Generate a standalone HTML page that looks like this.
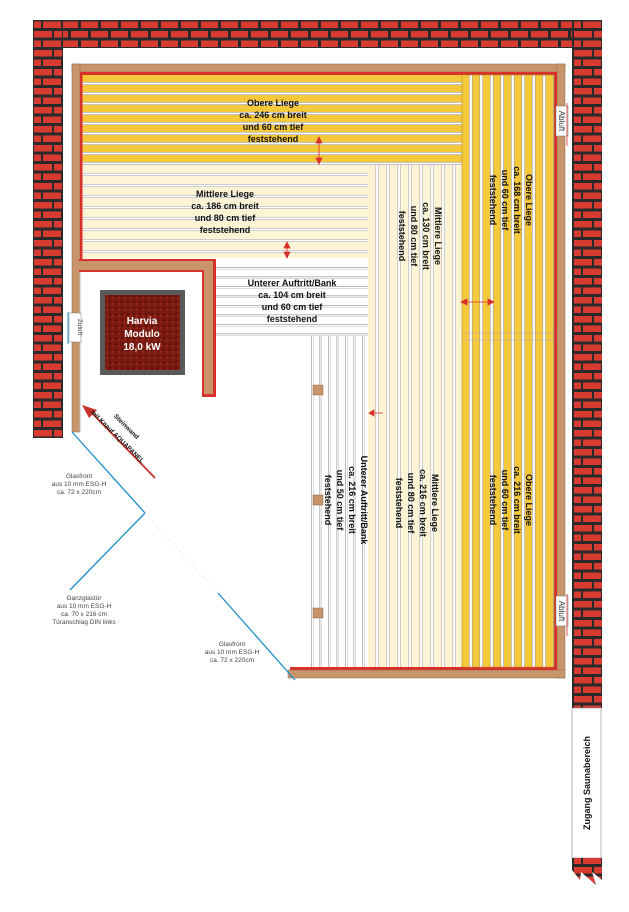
<!DOCTYPE html>
<html><head><meta charset="utf-8"><style>
html,body{margin:0;padding:0;background:#fff;}
svg{display:block;}
text{font-family:"Liberation Sans",sans-serif;}
.b{font-weight:bold;font-size:9px;fill:#111;}
.s{font-size:6.5px;fill:#444;}
</style></head><body>
<svg width="629" height="912" viewBox="0 0 629 912" xmlns="http://www.w3.org/2000/svg">
<defs>
<pattern id="brickH" x="0" y="20" width="20" height="19" patternUnits="userSpaceOnUse">
<rect width="20" height="19" fill="#2a2a2a"/>
<rect x="1" y="1.5" width="17" height="6.5" fill="#d83c30"/>
<rect x="-9" y="11" width="17" height="6.5" fill="#d83c30"/>
<rect x="11" y="11" width="17" height="6.5" fill="#d83c30"/>
</pattern>
<pattern id="brickV" x="33" y="20" width="30" height="19" patternUnits="userSpaceOnUse">
<rect width="30" height="19" fill="#2a2a2a"/>
<rect x="1" y="1.5" width="7" height="6.5" fill="#d83c30"/>
<rect x="10" y="1.5" width="18" height="6.5" fill="#d83c30"/>
<rect x="1" y="11" width="18" height="6.5" fill="#d83c30"/>
<rect x="21" y="11" width="8" height="6.5" fill="#d83c30"/>
</pattern>
<pattern id="yH" x="0" y="75" width="10" height="10" patternUnits="userSpaceOnUse">
<rect width="10" height="10" fill="#f6c93c"/>
<rect y="7" width="10" height="3" fill="#fff"/>
<rect y="7" width="10" height="0.6" fill="#999"/><rect y="9.4" width="10" height="0.6" fill="#999"/>
</pattern>
<pattern id="yV" x="462" y="0" width="10.5" height="10" patternUnits="userSpaceOnUse">
<rect width="10.5" height="10" fill="#f6c93c"/>
<rect x="7" width="3.5" height="10" fill="#fff"/>
<rect x="7" width="0.6" height="10" fill="#999"/><rect x="9.9" width="0.6" height="10" fill="#999"/>
</pattern>
<pattern id="cH" x="0" y="165" width="10" height="11" patternUnits="userSpaceOnUse">
<rect width="10" height="11" fill="#fdf4d6"/>
<rect y="8" width="10" height="3" fill="#fff"/>
<rect y="8" width="10" height="0.6" fill="#aaa"/><rect y="10.4" width="10" height="0.6" fill="#aaa"/>
</pattern>
<pattern id="cV" x="368" y="0" width="11" height="10" patternUnits="userSpaceOnUse">
<rect width="11" height="10" fill="#fdf4d6"/>
<rect x="7.5" width="3.5" height="10" fill="#fff"/>
<rect x="7.5" width="0.6" height="10" fill="#aaa"/><rect x="10.4" width="0.6" height="10" fill="#aaa"/>
</pattern>
<pattern id="wH" x="0" y="260" width="10" height="9.5" patternUnits="userSpaceOnUse">
<rect width="10" height="9.5" fill="#fff"/>
<rect y="7" width="10" height="0.7" fill="#999"/><rect y="9" width="10" height="0.5" fill="#bbb"/>
</pattern>
<pattern id="wV" x="305" y="0" width="8.5" height="10" patternUnits="userSpaceOnUse">
<rect width="8.5" height="10" fill="#fff"/>
<rect x="6" width="0.7" height="10" fill="#999"/><rect x="8" width="0.5" height="10" fill="#bbb"/>
</pattern>
<pattern id="lava" width="6" height="6" patternUnits="userSpaceOnUse">
<rect width="6" height="6" fill="#7a1a10"/>
<rect x="1" y="1" width="2" height="2" fill="#5a0f08"/>
<rect x="4" y="3" width="1.5" height="2" fill="#9a2a1a"/>
</pattern>
</defs>

<!-- walls -->
<rect x="33" y="20" width="569" height="28" fill="url(#brickH)"/>
<rect x="33" y="20" width="30" height="418" fill="url(#brickV)"/>
<rect x="572" y="20" width="30" height="688" fill="url(#brickV)"/>
<rect x="572" y="708" width="29" height="150" fill="#fff" stroke="#888" stroke-width="0.6"/>
<polygon points="572,858 602,858 602,880 592,872 596,885 581,872 580,880 572,870" fill="url(#brickV)"/>
<text class="b" font-size="10" transform="translate(590,783) rotate(-90)" text-anchor="middle">Zugang Saunabereich</text>

<!-- frame -->
<rect x="72" y="64" width="493" height="8" fill="#c8956a" stroke="#8a6a50" stroke-width="0.5"/>
<rect x="72" y="64" width="8" height="368" fill="#c8956a" stroke="#8a6a50" stroke-width="0.5"/>
<rect x="557" y="64" width="8" height="614" fill="#c8956a" stroke="#8a6a50" stroke-width="0.5"/>
<rect x="288" y="670" width="277" height="8" fill="#c8956a" stroke="#8a6a50" stroke-width="0.5"/>
<rect x="80" y="72" width="2.5" height="188" fill="#d8302a"/>
<rect x="80" y="72" width="477" height="3" fill="#d8302a"/>
<rect x="554" y="72" width="3" height="598" fill="#d8302a"/>
<rect x="290" y="667" width="267" height="3" fill="#d8302a"/>
<line x1="80" y1="268" x2="80" y2="432" stroke="#bbb" stroke-width="1"/>

<!-- benches -->
<rect x="82.5" y="75" width="380" height="90" fill="url(#yH)"/>
<rect x="462" y="75" width="92" height="592" fill="url(#yV)"/>
<rect x="82.5" y="165" width="286" height="93" fill="url(#cH)"/>
<rect x="368" y="165" width="94" height="502" fill="url(#cV)"/>
<rect x="216" y="260" width="152" height="76" fill="url(#wH)"/>
<rect x="305" y="336" width="63" height="331" fill="url(#wV)"/>
<rect x="462" y="75" width="92" height="592" fill="none" stroke="#b89020" stroke-width="0.6"/>
<line x1="462" y1="333" x2="554" y2="333" stroke="#aaa" stroke-width="0.6"/>
<line x1="462" y1="340" x2="554" y2="340" stroke="#aaa" stroke-width="0.6"/>
<rect x="313" y="385" width="10" height="10" fill="#c8956a" stroke="#8a6a50" stroke-width="0.5"/>
<rect x="313" y="495" width="10" height="10" fill="#c8956a" stroke="#8a6a50" stroke-width="0.5"/>
<rect x="313" y="608" width="10" height="10" fill="#c8956a" stroke="#8a6a50" stroke-width="0.5"/>

<!-- stove wall -->
<rect x="79" y="259" width="137" height="2" fill="#d8302a"/>
<rect x="79" y="261" width="137" height="9" fill="#c8956a"/>
<rect x="79" y="270" width="125" height="2" fill="#d8302a"/>
<rect x="202" y="270" width="2" height="127" fill="#d8302a"/>
<rect x="204" y="261" width="9" height="136" fill="#c8956a"/>
<rect x="213" y="259" width="3" height="138" fill="#d8302a"/>
<rect x="202" y="394" width="14" height="3" fill="#d8302a"/>

<!-- stove -->
<rect x="100" y="290" width="85" height="85" fill="#5a5a5a"/>
<rect x="105" y="295" width="75" height="75" fill="url(#lava)"/>
<text x="142" y="324" fill="#fff" font-weight="bold" font-size="10" text-anchor="middle">Harvia</text>
<text x="142" y="337" fill="#fff" font-weight="bold" font-size="10" text-anchor="middle">Modulo</text>
<text x="142" y="350" fill="#fff" font-weight="bold" font-size="10" text-anchor="middle">18,0 kW</text>

<!-- vents -->
<rect x="69" y="313" width="12" height="29" fill="#fff" stroke="#777" stroke-width="0.5"/>
<text class="s" font-size="8" fill="#333" transform="translate(78,327) rotate(90)" text-anchor="middle">Zuluft</text>
<line x1="68" y1="312" x2="68" y2="344" stroke="#2a9ad0" stroke-width="1"/>
<rect x="556" y="106" width="12" height="30" fill="#fff" stroke="#777" stroke-width="0.5"/>
<text font-size="8" fill="#333" transform="translate(559,121) rotate(90)" text-anchor="middle">Abluft</text>
<line x1="567" y1="103" x2="567" y2="146" stroke="#d8302a" stroke-width="0.8"/>
<rect x="556" y="596" width="12" height="30" fill="#fff" stroke="#777" stroke-width="0.5"/>
<text font-size="8" fill="#333" transform="translate(559,611) rotate(90)" text-anchor="middle">Abluft</text>
<line x1="567" y1="594" x2="567" y2="636" stroke="#d8302a" stroke-width="0.8"/>

<!-- labels -->
<g class="b" text-anchor="middle">
<text x="273" y="106">Obere Liege</text>
<text x="273" y="118">ca. 246 cm breit</text>
<text x="273" y="130">und 60 cm tief</text>
<text x="273" y="142">feststehend</text>
<text x="225" y="197">Mittlere Liege</text>
<text x="225" y="209">ca. 186 cm breit</text>
<text x="225" y="221">und 80 cm tief</text>
<text x="225" y="233">feststehend</text>
<text x="292" y="286">Unterer Auftritt/Bank</text>
<text x="292" y="298">ca. 104 cm breit</text>
<text x="292" y="310">und 60 cm tief</text>
<text x="292" y="322">feststehend</text>
</g>
<g class="b" text-anchor="middle">
<text transform="translate(526,200) rotate(90)">Obere Liege</text>
<text transform="translate(514,200) rotate(90)">ca. 168 cm breit</text>
<text transform="translate(502,200) rotate(90)">und 60 cm tief</text>
<text transform="translate(490,200) rotate(90)">feststehend</text>
<text transform="translate(435,236) rotate(90)">Mittlere Liege</text>
<text transform="translate(423,236) rotate(90)">ca. 130 cm breit</text>
<text transform="translate(411,236) rotate(90)">und 80 cm tief</text>
<text transform="translate(399,236) rotate(90)">feststehend</text>
<text transform="translate(526,500) rotate(90)">Obere Liege</text>
<text transform="translate(514,500) rotate(90)">ca. 216 cm breit</text>
<text transform="translate(502,500) rotate(90)">und 60 cm tief</text>
<text transform="translate(490,500) rotate(90)">feststehend</text>
<text transform="translate(432,503) rotate(90)">Mittlere Liege</text>
<text transform="translate(420,503) rotate(90)">ca. 216 cm breit</text>
<text transform="translate(408,503) rotate(90)">und 80 cm tief</text>
<text transform="translate(396,503) rotate(90)">feststehend</text>
<text transform="translate(361,500) rotate(90)">Unterer Auftritt/Bank</text>
<text transform="translate(349,500) rotate(90)">ca. 216 cm breit</text>
<text transform="translate(337,500) rotate(90)">und 50 cm tief</text>
<text transform="translate(325,500) rotate(90)">feststehend</text>
</g>

<!-- small dims -->
<g stroke="#d8302a" fill="#d8302a" stroke-width="0.8">
<line x1="319" y1="138" x2="319" y2="163"/><polygon points="316,143 322,143 319,137"/><polygon points="316,158 322,158 319,164"/>
<line x1="287" y1="243" x2="287" y2="257"/><polygon points="284,248 290,248 287,242"/><polygon points="284,252 290,252 287,258"/>
<line x1="462" y1="302" x2="493" y2="302"/><polygon points="467,299 467,305 461,302"/><polygon points="488,299 488,305 494,302"/>
<line x1="369" y1="413" x2="383" y2="413"/><polygon points="374,410 374,416 369,413"/>
</g>

<!-- glass -->
<g stroke="#1a8fc8" stroke-width="1.3" fill="none">
<line x1="72" y1="432" x2="145" y2="513"/>
<line x1="145" y1="513" x2="70" y2="590"/>
<line x1="218" y1="593" x2="295" y2="680"/>
</g>
<line x1="145" y1="513" x2="218" y2="593" stroke="#eee" stroke-width="1" stroke-dasharray="3,2"/>

<!-- red arrow -->
<line x1="155" y1="478" x2="90" y2="411" stroke="#c8302a" stroke-width="1.8"/>
<polygon points="82,405 97,410 89,418" fill="#c8302a"/>
<text font-weight="bold" font-size="6.5" fill="#111" transform="translate(125,428) rotate(45)" text-anchor="middle">Steinwand</text>
<text font-weight="bold" font-size="6.5" fill="#111" transform="translate(116,438) rotate(45)" text-anchor="middle">mit Knauf AQUAPANEL</text>

<g class="s" text-anchor="middle">
<text x="79" y="478">Glasfront</text>
<text x="79" y="486">aus 10 mm ESG-H</text>
<text x="79" y="494">ca. 72 x 220cm</text>
<text x="84" y="600">Ganzglastür</text>
<text x="84" y="608">aus 10 mm ESG-H</text>
<text x="84" y="616">ca. 70 x 216 cm</text>
<text x="84" y="624">Türanschlag DIN links</text>
<text x="232" y="646">Glasfront</text>
<text x="232" y="654">aus 10 mm ESG-H</text>
<text x="232" y="662">ca. 72 x 220cm</text>
</g>
</svg>
</body></html>
